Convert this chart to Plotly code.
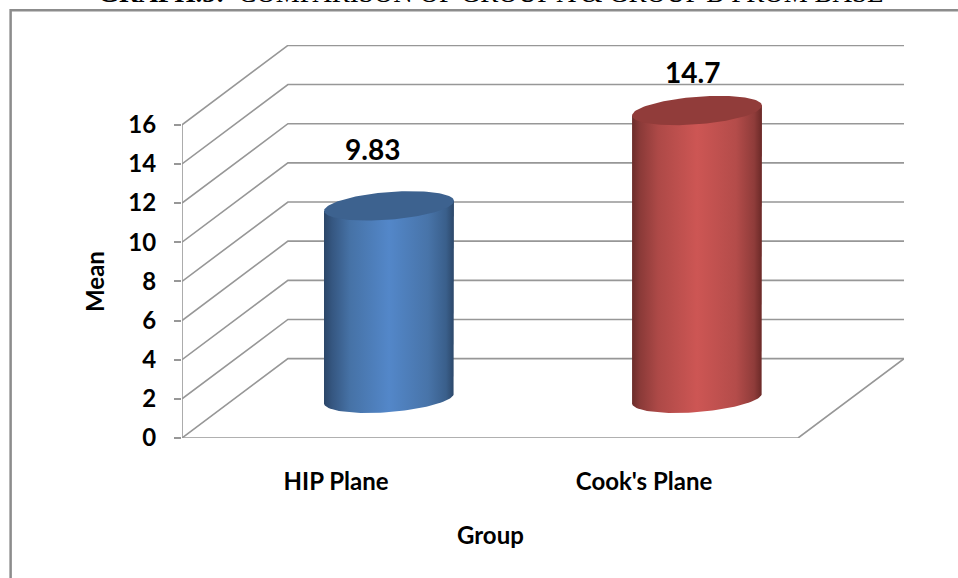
import numpy as np
import plotly.graph_objects as go

categories = ["HIP Plane", "Cook's Plane"]
means = [9.83, 14.7]
mean_labels = ["9.83", "14.7"]
y_ticks = [0, 2, 4, 6, 8, 10, 12, 14, 16]

W, H = 958, 578
L, R, T, B = 181.5, 904.0, 45.3, 438.0
PX_PER_UNIT_Y = (438.0 - 125.0) / 16
PX_PER_UNIT_X = (798.0 - 181.5) / 2
DX = (R - 798.0) / PX_PER_UNIT_X       # depth offset in x units
DY = (438.0 - 358.7) / PX_PER_UNIT_Y   # depth offset in y units
XMIN, XMAX_FRONT = -0.5, 1.5
HALF_W = 65 / PX_PER_UNIT_X
SKEW = 5 / PX_PER_UNIT_Y
MINOR = 13.8 / PX_PER_UNIT_Y
GRID = "#979797"

blue_scale = [[0, "#2b4668"], [0.06, "#355680"], [0.2, "#4672a6"], [0.5, "#5387c9"],
              [0.8, "#4874a9"], [0.94, "#3a5f8b"], [1, "#2c4769"]]
red_scale = [[0, "#6b2c2a"], [0.06, "#8a3a38"], [0.2, "#ad4947"], [0.5, "#cd5654"],
             [0.8, "#b44c4a"], [0.94, "#8f3c3a"], [1, "#6a2927"]]
top_colors = ["#3d628f", "#913c3a"]
scales = [blue_scale, red_scale]
label_dx = [-16, -5]
label_dy = [57, 39]

fig = go.Figure()

# walls and floor
gx, gy = [], []
for v in y_ticks:
    gx += [XMIN, XMIN + DX, XMAX_FRONT + DX, None]
    gy += [v, v + DY, v + DY, None]
gx += [XMIN, XMIN, None, XMIN, XMAX_FRONT, XMAX_FRONT + DX]
gy += [y_ticks[0], y_ticks[-1], None, 0, 0, DY]
fig.add_trace(go.Scatter(x=gx, y=gy, mode="lines", line=dict(color=GRID, width=1.6),
                         hoverinfo="skip", showlegend=False, cliponaxis=False))

# cylinders
t_low = np.linspace(0, np.pi, 60)
t_all = np.linspace(0, 2 * np.pi, 120)
for i, v in enumerate(means):
    cx = i + DX / 2
    base = DY / 2
    xs = cx + HALF_W * np.cos(t_low)
    ys = base + SKEW * np.cos(t_low) - MINOR * np.sin(t_low)
    bx = [cx + HALF_W] + list(xs) + [cx - HALF_W, cx + HALF_W]
    by = [base + v + SKEW] + list(ys) + [base + v - SKEW, base + v + SKEW]
    fig.add_trace(go.Scatter(x=bx, y=by, mode="lines", fill="toself", line=dict(width=0),
                             fillgradient=dict(type="horizontal", colorscale=scales[i]),
                             hoverinfo="skip", showlegend=False, cliponaxis=False))
    fig.add_trace(go.Scatter(x=cx + HALF_W * np.cos(t_all),
                             y=base + v + SKEW * np.cos(t_all) + MINOR * np.sin(t_all),
                             mode="lines", fill="toself", fillcolor=top_colors[i], line=dict(width=0),
                             hoverinfo="skip", showlegend=False, cliponaxis=False))

FONT = "Lato"
ann = []
for i, v in enumerate(means):
    ann.append(dict(x=i + DX / 2, y=DY / 2 + v, text=f"<b>{mean_labels[i]}</b>", showarrow=False,
                    xshift=label_dx[i], yshift=label_dy[i], font=dict(family=FONT, size=28, color="#000")))


def px(x):
    return (x - L) / (R - L)


def py(y):
    return (B - y) / (B - T)


ann.append(dict(xref="paper", yref="paper", x=px(94), y=py(281.5), xanchor="center", yanchor="middle",
                text="<b>Mean</b>", textangle=-90,
                showarrow=False, font=dict(family=FONT, size=24, color="#000")))
ann.append(dict(xref="paper", yref="paper", x=px(490), y=py(534), xanchor="center", yanchor="middle",
                text="<b>Group</b>",
                showarrow=False, font=dict(family=FONT, size=24, color="#000")))
ann.append(dict(xref="paper", yref="paper", x=px(490), y=py(10.5), xanchor="center", yanchor="bottom",
                text="<b>GRAPH.5:</b>  COMPARISON OF GROUP A &amp; GROUP B FROM BASE", showarrow=False,
                font=dict(family="Liberation Serif", size=27, color="#000")))

fig.update_layout(
    width=W, height=H, paper_bgcolor="#fff", plot_bgcolor="#fff", showlegend=False,
    margin=dict(l=L, r=W - R, t=T, b=H - B, autoexpand=False),
    xaxis=dict(range=[XMIN, XMAX_FRONT + DX], tickvals=[0, 1], ticktext=[f"<b>{c}</b>" for c in categories],
               ticks="outside", ticklen=22, tickcolor="rgba(0,0,0,0)", showgrid=False, zeroline=False,
               showline=False, tickfont=dict(family=FONT, size=24, color="#000")),
    yaxis=dict(range=[0, (B - T) / PX_PER_UNIT_Y], tickvals=y_ticks, ticktext=[f"<b>{v}</b>" for v in y_ticks],
               ticks="outside", ticklen=7, tickwidth=1.6, tickcolor=GRID, ticklabelstandoff=13,
               showgrid=False, zeroline=False, showline=False,
               tickfont=dict(family=FONT, size=24, color="#000")),
    annotations=ann,
    shapes=[dict(type="path", xref="paper", yref="paper",
                 path=f"M {px(10)} {py(578)} L {px(10)} {py(10.5)} L {px(958)} {py(10.5)}",
                 line=dict(color="#8c8c8c", width=2.5))],
)
fig.write_html("out.html", config={"displayModeBar": False},
               post_script="document.body.style.margin='0';document.documentElement.style.overflow='hidden';")
